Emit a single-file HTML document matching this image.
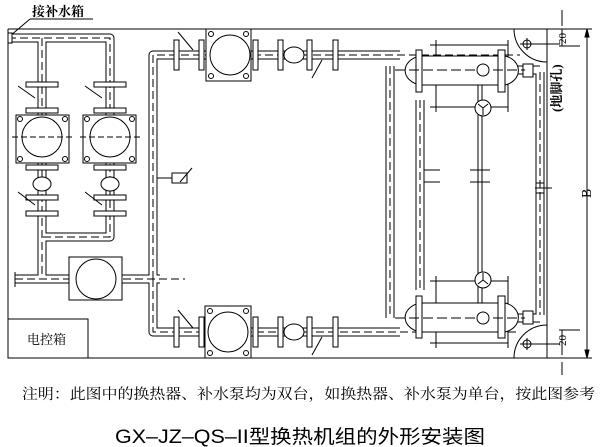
<!DOCTYPE html>
<html><head><meta charset="utf-8"><style>
html,body{margin:0;padding:0;background:#fff;}
svg{display:block}
.t{font-family:"Liberation Serif","Noto Serif CJK SC",serif;}
.s{font-family:"Liberation Sans","Noto Sans CJK SC",sans-serif;}
</style></head><body>
<svg width="600" height="447" viewBox="0 0 600 447" xmlns="http://www.w3.org/2000/svg" fill="none" stroke="#000" stroke-width="1">
<!-- frame -->
<path d="M8,29 H592 M8,29 V358 H547 M547,29 V358 M514,29 A33,33 0 0 0 547,62 M514,358 A33,33 0 0 1 547,325"/>
<path d="M547,358 H592"/>
<!-- dimensions -->
<path d="M562,29 V46 M562,10 V26 M559,46 H580 M587,29 V358"/>
<path d="M587,29 l-2,8 h4z M587,358 l-2,-8 h4z" fill="#000"/>
<path d="M562,330 V355 M562,362 V375 M559,330 H580"/>
<circle cx="527" cy="44" r="4"/><path d="M520,44 H560 M527,38 V50"/>
<circle cx="527" cy="344" r="4"/><path d="M520,344 H560 M527,338 V350"/>
<text class="t" x="0" y="0" font-size="11" fill="#000" stroke="none" transform="translate(566,44) rotate(-90)">20</text>
<text class="t" x="0" y="0" font-size="11" fill="#000" stroke="none" transform="translate(566,346) rotate(-90)">20</text>
<text class="t" x="0" y="0" font-size="13" font-weight="bold" fill="#000" stroke="none" transform="translate(561,112) rotate(-90)">(地脚孔)</text>
<text class="t" x="0" y="0" font-size="14" fill="#000" stroke="none" transform="translate(591,198) rotate(-90)">B</text>

<!-- pipes: outline -->
<g stroke="#000" stroke-width="9" stroke-linejoin="round">
<path d="M8,38 H110 V237 H42 M42,38 V278 M15,279 H160 M153,279 V332 H400 M153,279 V55 H400 M390,66 V318 M420,100 V290 M540,72 V315 M514,70 H540 M514,318 H540"/>
</g>
<g stroke="#fff" stroke-width="7" stroke-linejoin="round">
<path d="M8,38 H110 V237 H42 M42,38 V278 M15,279 H160 M153,279 V332 H400 M153,279 V55 H400 M390,66 V318 M420,100 V290 M540,72 V315 M514,70 H540 M514,318 H540"/>
</g>
<g stroke-dasharray="8,4">
<path d="M8,38 H110 V237 H42 M42,38 V278 M15,279 H185 M153,279 V332 H520 M153,279 V55 H520 M390,66 V318 M420,100 V290 M540,72 V315"/>
</g>
<path d="M482,68 V318 M478,68 V318" stroke-width="1"/>

<!-- label top-left -->
<text class="t" x="32" y="16" font-size="13" font-weight="bold" fill="#000" stroke="none">接补水箱</text>
<path d="M30,19 H93 M30,19 L10,36"/>
<rect x="8" y="33" width="4" height="10" fill="#fff"/>

<!-- left pumps -->
<g fill="#fff">
<rect x="16" y="115" width="53" height="48"/><circle cx="42" cy="137" r="20"/>
<rect x="83" y="115" width="53" height="48"/><circle cx="110" cy="137" r="20"/>
<rect x="26" y="82" width="32" height="5"/><rect x="94" y="82" width="32" height="5"/>
<rect x="26" y="108" width="32" height="5"/><rect x="94" y="108" width="32" height="5"/>
<rect x="26" y="165" width="32" height="5"/><rect x="94" y="165" width="32" height="5"/>
<rect x="26" y="195" width="32" height="5"/><rect x="94" y="195" width="32" height="5"/>
<rect x="26" y="211" width="32" height="5"/><rect x="94" y="211" width="32" height="5"/>
<ellipse cx="42" cy="184" rx="9" ry="7"/><ellipse cx="110" cy="184" rx="9" ry="7"/>
</g>
<g>
<circle cx="20" cy="119" r="2.5"/><circle cx="65" cy="119" r="2.5"/><circle cx="20" cy="159" r="2.5"/><circle cx="65" cy="159" r="2.5"/>
<circle cx="87" cy="119" r="2.5"/><circle cx="132" cy="119" r="2.5"/><circle cx="87" cy="159" r="2.5"/><circle cx="132" cy="159" r="2.5"/>
<path d="M12,137 H72 M80,137 H140" stroke-dasharray="6,3"/>
<path d="M18,86 L35,98 M85,86 L102,98 M18,192 L35,205 M85,192 L102,205"/>
</g>

<!-- bottom-left pump -->
<rect x="69" y="257" width="53" height="43" fill="#fff"/>
<circle cx="96" cy="279" r="20"/>
<path d="M15,272 V287"/>

<!-- electrical box -->
<rect x="8" y="319" width="80" height="39"/>
<text class="t" x="27" y="344" font-size="13" fill="#000" stroke="none">电控箱</text>

<!-- sensor -->
<rect x="172" y="173" width="15" height="10" fill="#fff"/>
<path d="M157,178 H172 M180,182 L192,168"/>

<!-- top & bottom middle pumps -->
<g fill="#fff">
<rect x="206" y="29" width="45" height="52"/><circle cx="230" cy="55" r="20"/>
<rect x="205" y="306" width="46" height="52"/><circle cx="228" cy="332" r="20"/>
<rect x="174" y="40" width="5" height="30"/><rect x="199" y="40" width="5" height="30"/><rect x="253" y="40" width="5" height="30"/><rect x="278" y="40" width="5" height="30"/>
<rect x="174" y="317" width="5" height="30"/><rect x="199" y="317" width="5" height="30"/><rect x="253" y="317" width="5" height="30"/><rect x="278" y="317" width="5" height="30"/>
<rect x="307" y="40" width="5" height="30"/><rect x="333" y="40" width="5" height="30"/>
<rect x="307" y="317" width="5" height="30"/><rect x="333" y="317" width="5" height="30"/>
<ellipse cx="294" cy="55" rx="10" ry="8"/><ellipse cx="294" cy="332" rx="10" ry="8"/>
</g>
<g>
<circle cx="211" cy="34" r="2.5"/><circle cx="246" cy="34" r="2.5"/><circle cx="211" cy="76" r="2.5"/><circle cx="246" cy="76" r="2.5"/>
<circle cx="210" cy="311" r="2.5"/><circle cx="246" cy="311" r="2.5"/><circle cx="210" cy="353" r="2.5"/><circle cx="246" cy="353" r="2.5"/>
<path d="M178,32 L193,50 M178,310 L193,328 M322,60 L312,78 M322,337 L312,355"/>
</g>

<!-- heat exchangers -->
<g id="hx">
<path d="M430,45 H508 M430,107 H508 M436,40 V112 M508,40 V112"/>
<path d="M420,56 H500 V85 H420z M420,56 A20,15 0 0 0 420,85 M505,56 A18,15 0 0 1 505,85" fill="#fff"/>
<rect x="416" y="50" width="6" height="42" fill="#fff"/>
<rect x="498" y="50" width="7" height="42" fill="#fff"/>
<rect x="523" y="64" width="10" height="13" fill="#fff"/>
<path d="M395,70 H525" stroke-dasharray="10,4"/>
<circle cx="483" cy="70" r="6" fill="#fff"/>
<circle cx="483" cy="108" r="8" fill="#fff"/><path d="M478,104 L483,108 L488,104 M483,108 V115"/>
</g>
<use href="#hx" transform="matrix(1,0,0,-1,0,388)"/>
<path d="M424,170 H440 M424,182 H440 M470,170 H490 M470,182 H490 M535,188 H552 M536,183 h8 v10 h-8z"/>

<!-- notes -->
<text class="t" x="22" y="399" font-size="14.5" textLength="573" lengthAdjust="spacingAndGlyphs" fill="#000" stroke="none">注明：此图中的换热器、补水泵均为双台，如换热器、补水泵为单台，按此图参考</text>
<text class="s" x="115" y="443" font-size="19" textLength="370" lengthAdjust="spacingAndGlyphs" fill="#000" stroke="none">GX–JZ–QS–II型换热机组的外形安装图</text>
</svg>
</body></html>
